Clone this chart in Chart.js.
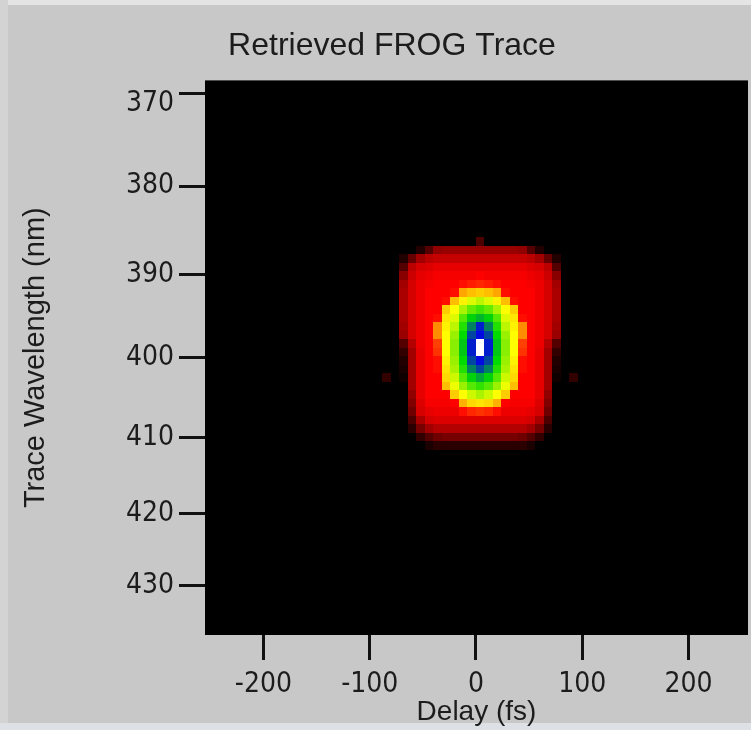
<!DOCTYPE html>
<html>
<head>
<meta charset="utf-8">
<title>Retrieved FROG Trace</title>
<script src="https://cdn.jsdelivr.net/npm/chart.js@4.4.1/dist/chart.umd.min.js"></script>
<style>
  html, body { margin: 0; padding: 0; background: #c8c8c8; }
  #wrap { position: relative; width: 751px; height: 730px; }
</style>
</head>
<body>
<div id="wrap"><canvas id="frog" width="751" height="730"></canvas></div>
<script>
// nm·THz, converts wavelength <-> optical frequency
const SPEED_OF_LIGHT = 299792.458;

// Delay axis: column centres in fs, each column 8 fs wide
const delays = [-84, -76, -68, -60, -52, -44, -36, -28, -20, -12, -4, 4, 12, 20, 28, 36, 44, 52, 60, 68, 76, 84, 92];
const DELAY_STEP = 8;

// Frequency axis: row centres in THz, each row 1.953 THz tall
const frequencies = [776.21, 774.26, 772.31, 770.35, 768.40, 766.45, 764.49, 762.54, 760.59, 758.64,
                     756.68, 754.73, 752.78, 750.82, 748.87, 746.92, 744.96, 743.01, 741.06, 739.11,
                     737.15, 735.20, 733.25, 731.29, 729.34];
const FREQ_STEP = 1.953;

// Retrieved trace intensity, % of peak (rows follow frequencies, columns follow delays)
const intensity = [
  [0,0,0,0,0,0,0,0,0,0,0,9,0,0,0,0,0,0,0,0,0,0,0],
  [0,0,0,0,4,10,17,18,18,18,18,18,18,18,18,18,17,10,4,0,0,0,0],
  [0,0,4,12,19,22,23,23,23,23,23,23,23,23,23,23,23,22,19,12,4,0,0],
  [0,0,10,22,25,26,27,27,27,27,27,27,27,27,27,27,27,26,25,22,10,0,0],
  [0,0,16,24,27,28,29,29,29,29,29,30,29,29,29,29,29,28,27,24,16,0,0],
  [0,0,19,25,28,29,30,30,30,31,32,33,32,31,30,30,30,29,28,25,19,0,0],
  [0,0,20,25,28,30,30,30,31,43,45,46,45,43,31,30,30,30,28,25,20,0,0],
  [0,0,20,25,28,30,30,31,45,49,52,54,52,49,45,31,30,30,28,25,20,0,0],
  [0,0,20,25,28,30,30,46,50,55,59,61,59,55,50,46,30,30,28,25,20,0,0],
  [0,0,20,25,28,30,31,48,52,60,66,69,66,60,52,48,31,30,28,25,20,0,0],
  [0,0,19,25,28,30,41,49,54,63,74,84,74,63,54,49,41,30,28,25,19,0,0],
  [0,0,18,25,28,30,41,50,56,65,80,86,80,65,56,50,41,30,28,25,18,0,0],
  [0,0,10,21,28,30,35,50,57,67,84,100,84,67,57,50,35,30,28,21,10,0,0],
  [0,0,6,19,27,30,34,50,57,67,84,100,84,67,57,50,34,30,27,19,6,0,0],
  [0,0,4,19,27,30,31,49,56,65,80,86,80,65,56,49,31,30,27,19,4,0,0],
  [0,0,3,19,27,30,31,48,55,63,74,80,74,63,55,48,31,30,27,19,3,0,0],
  [6,0,2,19,27,30,30,47,53,60,66,70,66,60,53,47,30,30,27,19,2,0,6],
  [0,0,0,19,27,30,30,45,51,56,60,62,60,56,51,45,30,30,27,19,0,0,0],
  [0,0,0,17,27,30,30,30,46,50,53,55,53,50,46,30,30,30,27,17,0,0,0],
  [0,0,0,15,26,29,29,29,30,44,47,48,47,44,30,29,29,29,26,15,0,0,0],
  [0,0,0,13,25,27,28,28,28,31,33,34,33,31,28,28,28,27,25,13,0,0,0],
  [0,0,0,9,20,25,26,26,26,26,26,26,26,26,26,26,26,25,20,9,0,0,0],
  [0,0,0,5,14,19,21,21,21,21,21,21,21,21,21,21,21,19,14,5,0,0,0],
  [0,0,0,0,6,10,13,14,14,14,14,14,14,14,14,14,13,10,6,0,0,0,0],
  [0,0,0,0,0,3,5,5,5,5,5,5,5,5,5,5,5,3,0,0,0,0,0]
];

// Axis ticks
const delayTicks = [-200, -100, 0, 100, 200];
const wavelengthTicks = [430, 420, 410, 400, 390, 380, 370];

// Colour scale: black -> red -> yellow -> green -> blue -> white
const colourStops = [
  [0.00, [0, 0, 0]],
  [0.30, [255, 0, 0]],
  [0.50, [255, 255, 0]],
  [0.65, [0, 220, 0]],
  [0.86, [0, 10, 225]],
  [1.00, [255, 255, 255]]
];

function colourFor(t) {
  t = Math.max(0, Math.min(1, t));
  for (let i = 1; i < colourStops.length; i++) {
    const [t1, c1] = colourStops[i];
    if (t <= t1) {
      const [t0, c0] = colourStops[i - 1];
      const k = (t - t0) / (t1 - t0);
      const c = c0.map((v, j) => Math.round(v + (c1[j] - v) * k));
      return `rgb(${c[0]},${c[1]},${c[2]})`;
    }
  }
  return 'rgb(255,255,255)';
}

const TEXT = '#1c1c1c';
const LABEL_FONT = "'DejaVu Sans Condensed', 'Liberation Sans', sans-serif";
const TITLE_FONT = "'Liberation Sans', Arial, sans-serif";
const LABEL_SIZE = 28;

// Panel background, black plot field and the trace cells
const traceLayer = {
  id: 'traceLayer',
  beforeDraw(chart) {
    const { ctx, chartArea: a, width, height } = chart;
    ctx.save();
    ctx.fillStyle = '#c8c8c8';
    ctx.fillRect(0, 0, width, height);
    ctx.fillStyle = '#e4e4e4';
    ctx.fillRect(0, 0, width, 5);
    ctx.fillStyle = '#d3d3d3';
    ctx.fillRect(0, 0, 8, height);
    ctx.fillStyle = '#dde1e6';
    ctx.fillRect(0, height - 7, width, 7);
    ctx.fillStyle = '#000';
    ctx.fillRect(a.left, a.top, a.right - a.left, a.bottom - a.top);
    ctx.restore();
  },
  beforeDatasetsDraw(chart) {
    const { ctx, chartArea: a, scales: { x, y } } = chart;
    ctx.save();
    ctx.beginPath();
    ctx.rect(a.left, a.top, a.right - a.left, a.bottom - a.top);
    ctx.clip();
    intensity.forEach((row, r) => {
      const f = frequencies[r];
      const top = Math.round(y.getPixelForValue(f + FREQ_STEP / 2));
      const bottom = Math.round(y.getPixelForValue(f - FREQ_STEP / 2));
      row.forEach((v, c) => {
        if (!v) return;
        const d = delays[c];
        const left = Math.round(x.getPixelForValue(d - DELAY_STEP / 2));
        const right = Math.round(x.getPixelForValue(d + DELAY_STEP / 2));
        ctx.fillStyle = colourFor(v / 100);
        ctx.fillRect(left, top, right - left, bottom - top);
      });
    });
    ctx.restore();
  }
};

new Chart(document.getElementById('frog'), {
  type: 'scatter',
  data: { datasets: [] },
  plugins: [traceLayer],
  options: {
    responsive: false,
    animation: false,
    devicePixelRatio: 1,
    layout: { padding: { left: 36, right: 3, top: 0, bottom: 0 } },
    plugins: {
      legend: { display: false },
      tooltip: { enabled: false },
      title: {
        display: true,
        text: 'Retrieved FROG Trace',
        color: TEXT,
        font: { family: TITLE_FONT, size: 32, weight: 'normal' },
        padding: { top: 27, bottom: 15 }
      }
    },
    scales: {
      x: {
        type: 'linear',
        position: 'bottom',
        min: -255,
        max: 256,
        afterBuildTicks: s => { s.ticks = delayTicks.map(v => ({ value: v })); },
        afterFit: s => { s.height = 95; s.paddingLeft = 0; s.paddingRight = 0; },
        grid: { display: true, drawOnChartArea: false, drawTicks: true, tickLength: 25, tickWidth: 3, tickColor: '#111' },
        border: { display: false },
        ticks: {
          padding: 8,
          autoSkip: false,
          maxRotation: 0,
          color: TEXT,
          font: { family: LABEL_FONT, size: LABEL_SIZE }
        },
        title: {
          display: true,
          text: 'Delay (fs)',
          color: TEXT,
          font: { family: TITLE_FONT, size: 28 },
          padding: { top: 0, bottom: 1 }
        }
      },
      y: {
        type: 'linear',
        position: 'left',
        min: 685.87,
        max: 813.21,
        afterBuildTicks: s => { s.ticks = wavelengthTicks.map(w => ({ value: SPEED_OF_LIGHT / w })); },
        afterFit: s => { s.width = 169; s.paddingTop = 0; s.paddingBottom = 0; },
        grid: { display: true, drawOnChartArea: false, drawTicks: true, tickLength: 26, tickWidth: 3, tickColor: '#111' },
        border: { display: false },
        ticks: {
          padding: 5,
          autoSkip: false,
          color: TEXT,
          // the top label sits just below its tick
          callback: (v, i) => {
            const nm = String(Math.round(SPEED_OF_LIGHT / v));
            return i === wavelengthTicks.length - 1 ? ['', nm] : nm;
          },
          font: c => ({ family: LABEL_FONT, size: LABEL_SIZE, lineHeight: c.index === wavelengthTicks.length - 1 ? 0.78 : 1.2 })
        },
        title: {
          display: true,
          text: 'Trace Wavelength (nm)',
          color: TEXT,
          font: { family: TITLE_FONT, size: 29 },
          padding: { top: -17.4, bottom: 0 }
        }
      }
    }
  }
});
</script>
</body>
</html>
